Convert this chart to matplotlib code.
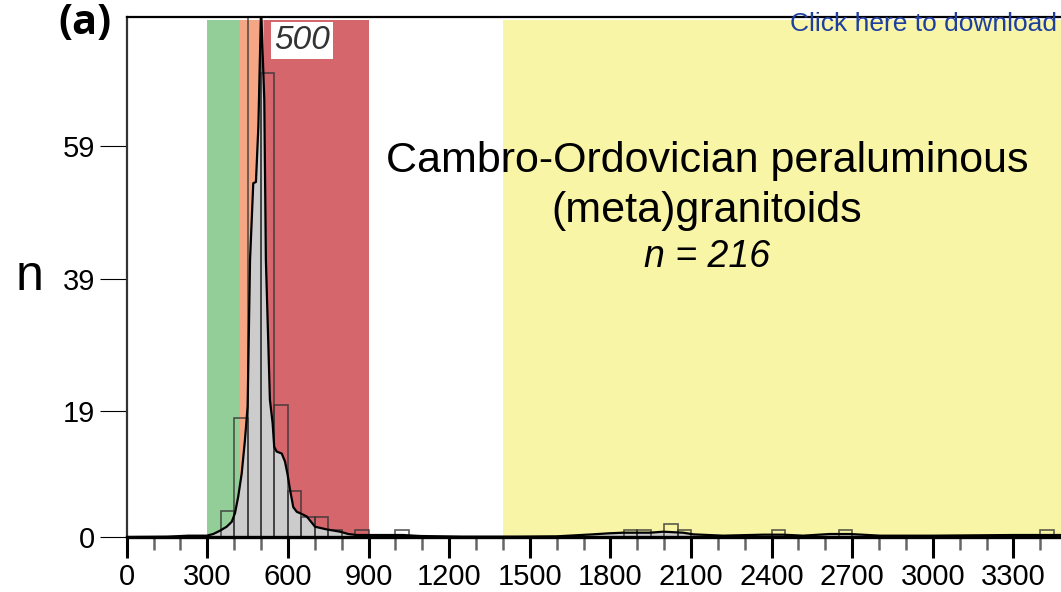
import matplotlib
matplotlib.use("Agg")
import matplotlib.pyplot as plt

plt.rcParams['font.family'] = ['Liberation Sans', 'DejaVu Sans']

# Age bands shaded behind the histogram (Ma)
band_start = [300, 420, 510, 1400]
band_end = [420, 510, 900, 3500]
band_colors = ['#93ce98', '#f5a685', '#d4666c', '#f8f5a6']

# Histogram bins (left edge, 50 Ma wide) and counts
bin_left = [350, 400, 450, 500, 550, 600, 650, 700, 750, 850, 1000,
            1850, 1900, 2000, 2050, 2400, 2650, 3400]
bin_count = [4, 18, 80, 70, 20, 7, 3, 3, 1, 1, 1,
             1, 1, 2, 1, 1, 1, 1]

# Density curve (age in Ma, scaled to n)
kde_age = [0, 150, 229, 298, 322, 347, 372, 391, 403, 415,
           428, 440, 450, 459, 471, 481, 490, 500, 512, 518,
           533, 543, 549, 558, 577, 589, 598, 608, 620, 633,
           645, 670, 701, 744, 794, 825, 856, 980, 1028, 1092,
           1250, 1450, 1600, 1735, 1792, 1848, 1947, 1997, 2071, 2109,
           2219, 2368, 2442, 2517, 2617, 2692, 2803, 3000, 3298, 3477]
kde_n = [0, 0.05, 0.2, 0.2, 0.45, 0.95, 1.55, 2.3, 3.6, 6.1,
         9.6, 14.6, 19.7, 41.8, 53.4, 53.6, 62.0, 80.0, 66.0, 41.8,
         20.7, 17.2, 13.6, 12.9, 12.6, 11.4, 9.6, 7.1, 4.5, 3.8,
         3.6, 3.1, 1.55, 1.15, 0.8, 0.45, 0.3, 0.3, 0.3, 0.15,
         0.05, 0.05, 0.1, 0.4, 0.55, 0.65, 0.65, 0.8, 0.65, 0.4,
         0.2, 0.35, 0.35, 0.2, 0.45, 0.45, 0.2, 0.2, 0.3, 0.3]

x_ticks = list(range(0, 3301, 300))
x_minor = list(range(0, 3477, 100))
y_ticks = [0, 19, 39, 59]

W, H = 1061, 592
fig = plt.figure(figsize=(W / 100, H / 100), dpi=100)
ax = fig.add_axes([126.7 / W, 55 / H, 1 - 126.7 / W, 520 / H])
ax.set_xlim(0, 3477)
ax.set_ylim(0, 78.5)

for x0, x1, c in zip(band_start, band_end, band_colors):
    ax.axvspan(x0, x1, ymin=0, ymax=0.994, color=c, lw=0, zorder=0)

ax.fill_between(kde_age, kde_n, color='#cccccc', lw=0, zorder=1)
ax.bar(bin_left, bin_count, width=50, align='edge', fill=False,
       edgecolor='#333333', linewidth=1.2, alpha=0.8, zorder=2)
ax.plot(kde_age, kde_n, color='black', lw=1.6, zorder=3)

# axes styling
ax.spines['right'].set_visible(False)
ax.spines['bottom'].set_linewidth(2.4)
ax.spines['top'].set_linewidth(1.6)
ax.spines['left'].set_linewidth(1.6)
ax.spines['left'].set_color('#333333')

ax.set_xticks(x_ticks)
ax.set_xticks(x_minor, minor=True)
ax.tick_params(axis='x', which='major', length=10, width=2.2, color='black',
               labelsize=21, pad=9)
ax.tick_params(axis='x', which='minor', length=9, width=1.8, color='#666666')
for t in ax.xaxis.get_major_ticks():
    if t.get_loc() in (0, 1500):
        t.tick1line.set_markersize(15)
ax.set_yticks(y_ticks)
ax.tick_params(axis='y', length=19.5, width=0.8, labelsize=21, pad=3)

# labels and annotations
fig.text(30 / W, 1 - 290 / H, 'n', fontsize=36, ha='center', va='baseline')
fig.text(58 / W, 1 - 34 / H, '(a)', fontsize=30, fontweight='bold',
         family=['Open Sans', 'DejaVu Sans'], ha='left', va='baseline')
fig.text(302 / W, 1 - 49 / H, '500', fontsize=24, style='italic',
         color='#333333', ha='center', va='baseline',
         bbox=dict(boxstyle='square,pad=0.08', fc='white', ec='none'))
fig.text(707 / W, 1 - 172 / H, 'Cambro-Ordovician peraluminous',
         fontsize=31, ha='center', va='baseline')
fig.text(707 / W, 1 - 222 / H, '(meta)granitoids',
         fontsize=31, ha='center', va='baseline')
fig.text(707 / W, 1 - 267 / H, 'n = 216', fontsize=27, style='italic',
         ha='center', va='baseline')
fig.text(790 / W, 1 - 31 / H, 'Click here to download', fontsize=19,
         color='#1f3f9f', ha='left', va='baseline')

fig.savefig('out.png', dpi=100)
